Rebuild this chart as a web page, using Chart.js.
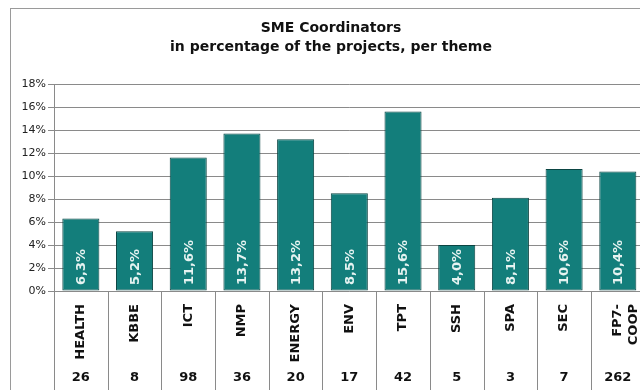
<!DOCTYPE html>
<html>
<head>
<meta charset="utf-8">
<script src="https://cdn.jsdelivr.net/npm/chart.js@4"></script>
<style>
  html, body { margin:0; padding:0; background:#fff; overflow:hidden; }
  #wrap { width:640px; height:390px; overflow:hidden; position:relative; }
  canvas { position:absolute; left:0; top:0; }
</style>
</head>
<body>
<div id="wrap"><canvas id="c" width="654" height="390"></canvas></div>
<script>
const themes   = ['HEALTH','KBBE','ICT','NMP','ENERGY','ENV','TPT','SSH','SPA','SEC',['FP7-','COOP']];
const shares   = [6.3, 5.2, 11.6, 13.7, 13.2, 8.5, 15.6, 4.0, 8.1, 10.6, 10.4];
const projects = [26, 8, 98, 36, 20, 17, 42, 5, 3, 7, 262];
const titleLines = ['SME Coordinators', 'in percentage of the projects, per theme'];

const FONT = '"DejaVu Sans", Verdana, sans-serif';
const fmt = v => v.toFixed(1).replace('.', ',') + '%';

// title + outer frame
const frame = {
  id:'frame',
  beforeDraw(chart) {
    const c = chart.ctx;
    c.save();
    c.strokeStyle = '#9a9a9a'; c.lineWidth = 1;
    c.strokeRect(10.5, 8.5, 700, 450);
    c.fillStyle = '#111';
    c.font = 'bold 14px ' + FONT;
    c.textAlign = 'center'; c.textBaseline = 'middle';
    const cx = chart.chartArea.left + 277;
    c.fillText(titleLines[0], cx, 28);
    c.fillText(titleLines[1], cx, 47);
    c.restore();
  }
};

// values inside bars, table lines and project counts under the axis
const extras = {
  id:'extras',
  afterDatasetsDraw(chart) {
    const c = chart.ctx, x = chart.scales.x, y = chart.scales.y;
    const base = y.getPixelForValue(0);
    c.save();
    c.fillStyle = '#e6f3f1';
    c.font = 'bold 13px ' + FONT;
    c.textAlign = 'left'; c.textBaseline = 'middle';
    chart.getDatasetMeta(0).data.forEach((bar, i) => {
      c.save();
      c.translate(bar.x + 1, base - 6);
      c.rotate(-Math.PI/2);
      c.fillText(fmt(shares[i]), 0, 0);
      c.restore();
    });
    const step = x.getPixelForValue(1) - x.getPixelForValue(0);
    c.strokeStyle = '#8a8a8a'; c.lineWidth = 1;
    c.beginPath();
    for (let i = 0; i <= themes.length; i++) {
      const px = Math.round(x.getPixelForValue(i) - step/2) + 0.5;
      c.moveTo(px, base); c.lineTo(px, chart.height);
    }
    c.stroke();
    c.fillStyle = '#111';
    c.font = 'bold 13px ' + FONT;
    c.textAlign = 'center';
    projects.forEach((n, i) => c.fillText(String(n), x.getPixelForValue(i), 378));
    c.restore();
  }
};

new Chart(document.getElementById('c'), {
  type:'bar',
  data:{
    labels: themes,
    datasets:[{
      data: shares,
      backgroundColor:'#137e7b',
      borderColor:'#0b4543',
      borderWidth:1,
      borderSkipped:false,
      barPercentage:0.69,
      categoryPercentage:1
    }]
  },
  options:{
    responsive:false,
    animation:false,
    layout:{ padding:{ top:84, left:10, right:0, bottom:0 } },
    plugins:{ legend:{display:false}, tooltip:{enabled:false} },
    scales:{
      x:{
        afterFit: s => { s.height = 390 - 291; },
        grid:{ display:false },
        border:{ display:false },
        ticks:{ color:'#111', font:{ family:FONT, size:13, weight:'bold' },
                minRotation:90, maxRotation:90, autoSkip:false, padding:5 }
      },
      y:{
        min:0, max:18,
        afterFit: s => { s.width = 44; },
        grid:{ color:'#8a8a8a', tickLength:6 },
        border:{ color:'#8a8a8a' },
        ticks:{ stepSize:2, color:'#222', font:{ family:FONT, size:11 }, padding:2,
                callback: v => v + '%' }
      }
    }
  },
  plugins:[frame, extras]
});
</script>
</body>
</html>
